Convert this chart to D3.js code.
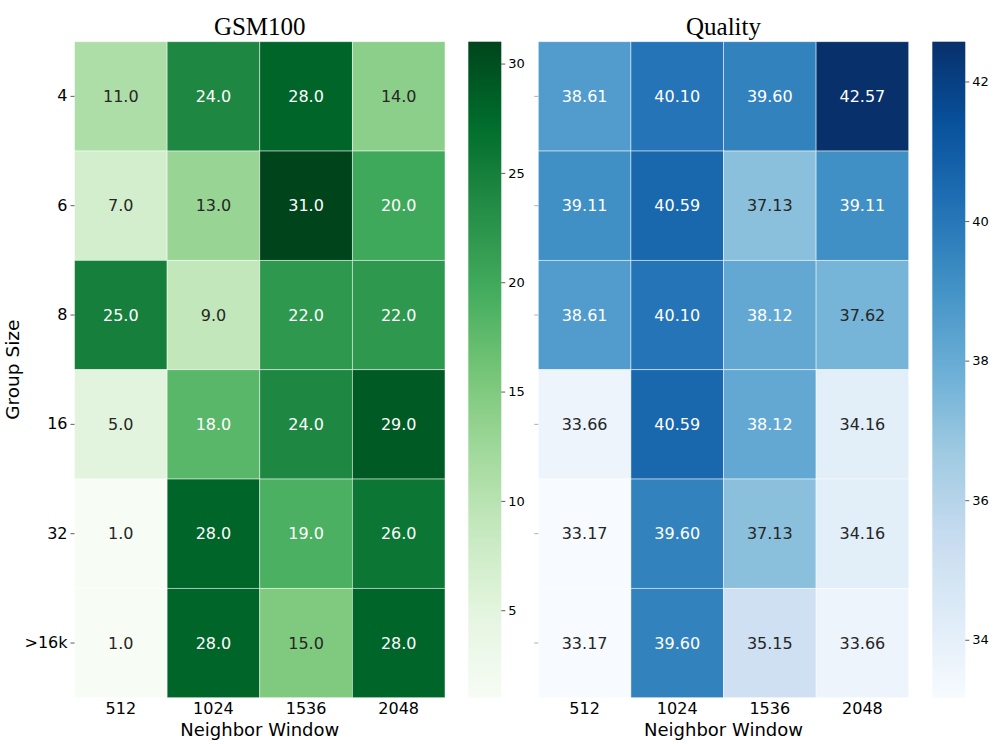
<!DOCTYPE html>
<html>
<head>
<meta charset="utf-8">
<script src="https://cdn.jsdelivr.net/npm/d3@7"></script>
<style>
  body { margin: 0; background: #fff; }
</style>
</head>
<body>
<div id="chart"></div>
<script>
// Data
const windows = ["512", "1024", "1536", "2048"];
const groupSizes = ["4", "6", "8", "16", "32", ">16k"];

const gsmValues = [
  [11, 24, 28, 14],
  [7, 13, 31, 20],
  [25, 9, 22, 22],
  [5, 18, 24, 29],
  [1, 28, 19, 26],
  [1, 28, 15, 28]
];
const qualityValues = [
  [38.61, 40.10, 39.60, 42.57],
  [39.11, 40.59, 37.13, 39.11],
  [38.61, 40.10, 38.12, 37.62],
  [33.66, 40.59, 38.12, 34.16],
  [33.17, 39.60, 37.13, 34.16],
  [33.17, 39.60, 35.15, 33.66]
];
const gsmTicks = [5, 10, 15, 20, 25, 30];
const qualityTicks = [34, 36, 38, 40, 42];

const w = 997, h = 744;
const yTop = 41.7, yBottom = 697.7;
const sans = "'DejaVu Sans', sans-serif";
const serif = "'Liberation Serif', 'Times New Roman', serif";

const svg = d3.select("#chart").append("svg")
  .attr("width", w).attr("height", h)
  .style("font-family", sans);

// piecewise linear colour map like matplotlib's
function cmap(scheme, domain) {
  const t = d3.scaleLinear().domain(domain).range([0, 1]).clamp(true);
  const stops = d3.scaleLinear()
    .domain(d3.range(scheme.length).map(i => i / (scheme.length - 1)))
    .range(scheme)
    .interpolate(d3.interpolateRgb);
  return v => stops(t(v));
}

function textColor(c) {
  const rgb = d3.rgb(c);
  const lin = v => { v /= 255; return v <= 0.03928 ? v / 12.92 : Math.pow((v + 0.055) / 1.055, 2.4); };
  const lum = 0.2126 * lin(rgb.r) + 0.7152 * lin(rgb.g) + 0.0722 * lin(rgb.b);
  return lum > 0.408 ? "#262626" : "#ffffff";
}

function heatmap(opts) {
  const { values, x0, x1, scheme, domain, title, fmt, cbX, ticks, showY, id } = opts;
  const color = cmap(scheme, domain);

  const x = d3.scaleBand().domain(windows).range([x0, x1]);
  const y = d3.scaleBand().domain(groupSizes).range([yTop, yBottom]);

  const g = svg.append("g");

  const cells = [];
  values.forEach((row, i) => row.forEach((v, j) => cells.push({ r: groupSizes[i], c: windows[j], v })));

  g.selectAll("rect.cell").data(cells).enter().append("rect")
    .attr("class", "cell")
    .attr("x", d => x(d.c))
    .attr("y", d => y(d.r))
    .attr("width", x.bandwidth())
    .attr("height", y.bandwidth())
    .attr("fill", d => color(d.v))
    .attr("stroke", "rgba(255,255,255,0.6)")
    .attr("stroke-width", 0.8);

  g.selectAll("text.ann").data(cells).enter().append("text")
    .attr("class", "ann")
    .attr("x", d => x(d.c) + x.bandwidth() / 2)
    .attr("y", d => y(d.r) + y.bandwidth() / 2)
    .attr("dy", "0.36em")
    .attr("text-anchor", "middle")
    .style("font-size", "16px")
    .attr("fill", d => textColor(color(d.v)))
    .text(d => fmt(d.v));

  // x axis
  const xa = g.append("g").attr("transform", `translate(0,${yBottom})`)
    .call(d3.axisBottom(x).tickSize(0).tickPadding(5));
  xa.select(".domain").remove();
  xa.selectAll("text").style("font-size", "16px").style("font-family", sans).attr("fill", "#000");
  g.append("text")
    .attr("x", (x0 + x1) / 2).attr("y", 736)
    .attr("text-anchor", "middle").style("font-size", "18px")
    .text("Neighbor Window");

  // y axis
  const ya = g.append("g").attr("transform", `translate(${x0},0)`)
    .call(d3.axisLeft(y).tickSize(4).tickPadding(3).tickFormat(showY ? d => d : () => ""));
  ya.select(".domain").remove();
  ya.selectAll("line").attr("stroke", showY ? "#333" : "#999").attr("stroke-width", 0.8);
  ya.selectAll("text").style("font-size", "16px").style("font-family", sans).attr("fill", "#000");

  // title
  g.append("text")
    .attr("x", (x0 + x1) / 2).attr("y", 35)
    .attr("text-anchor", "middle")
    .style("font-family", serif)
    .style("font-size", "25px")
    .text(title);

  // colorbar
  const cbW = 33;
  const grad = svg.append("defs").append("linearGradient")
    .attr("id", id).attr("x1", 0).attr("y1", 1).attr("x2", 0).attr("y2", 0);
  d3.range(0, 1.0001, 0.02).forEach(t => {
    grad.append("stop").attr("offset", t)
      .attr("stop-color", color(domain[0] + t * (domain[1] - domain[0])));
  });
  svg.append("rect")
    .attr("x", cbX).attr("y", yTop)
    .attr("width", cbW).attr("height", yBottom - yTop)
    .attr("fill", `url(#${id})`);

  const cy = d3.scaleLinear().domain(domain).range([yBottom, yTop]);
  const ca = svg.append("g").attr("transform", `translate(${cbX + cbW},0)`)
    .call(d3.axisRight(cy).tickValues(ticks).tickSize(4).tickPadding(3));
  ca.select(".domain").remove();
  ca.selectAll("line").attr("stroke", "#333").attr("stroke-width", 0.8);
  ca.selectAll("text").style("font-size", "13px").style("font-family", sans).attr("fill", "#000");
}

heatmap({
  id: "gGreens", values: gsmValues, x0: 74.5, x1: 445,
  scheme: d3.schemeGreens[9], domain: [1, 31],
  title: "GSM100", fmt: d3.format(".1f"),
  cbX: 468.3, ticks: gsmTicks, showY: true
});

heatmap({
  id: "gBlues", values: qualityValues, x0: 538.3, x1: 908.7,
  scheme: d3.schemeBlues[9], domain: [33.17, 42.57],
  title: "Quality", fmt: d3.format(".2f"),
  cbX: 932.3, ticks: qualityTicks, showY: false
});

// shared y label
svg.append("text")
  .attr("transform", `translate(19,${(yTop + yBottom) / 2}) rotate(-90)`)
  .attr("text-anchor", "middle")
  .style("font-size", "18.5px")
  .text("Group Size");
</script>
</body>
</html>
